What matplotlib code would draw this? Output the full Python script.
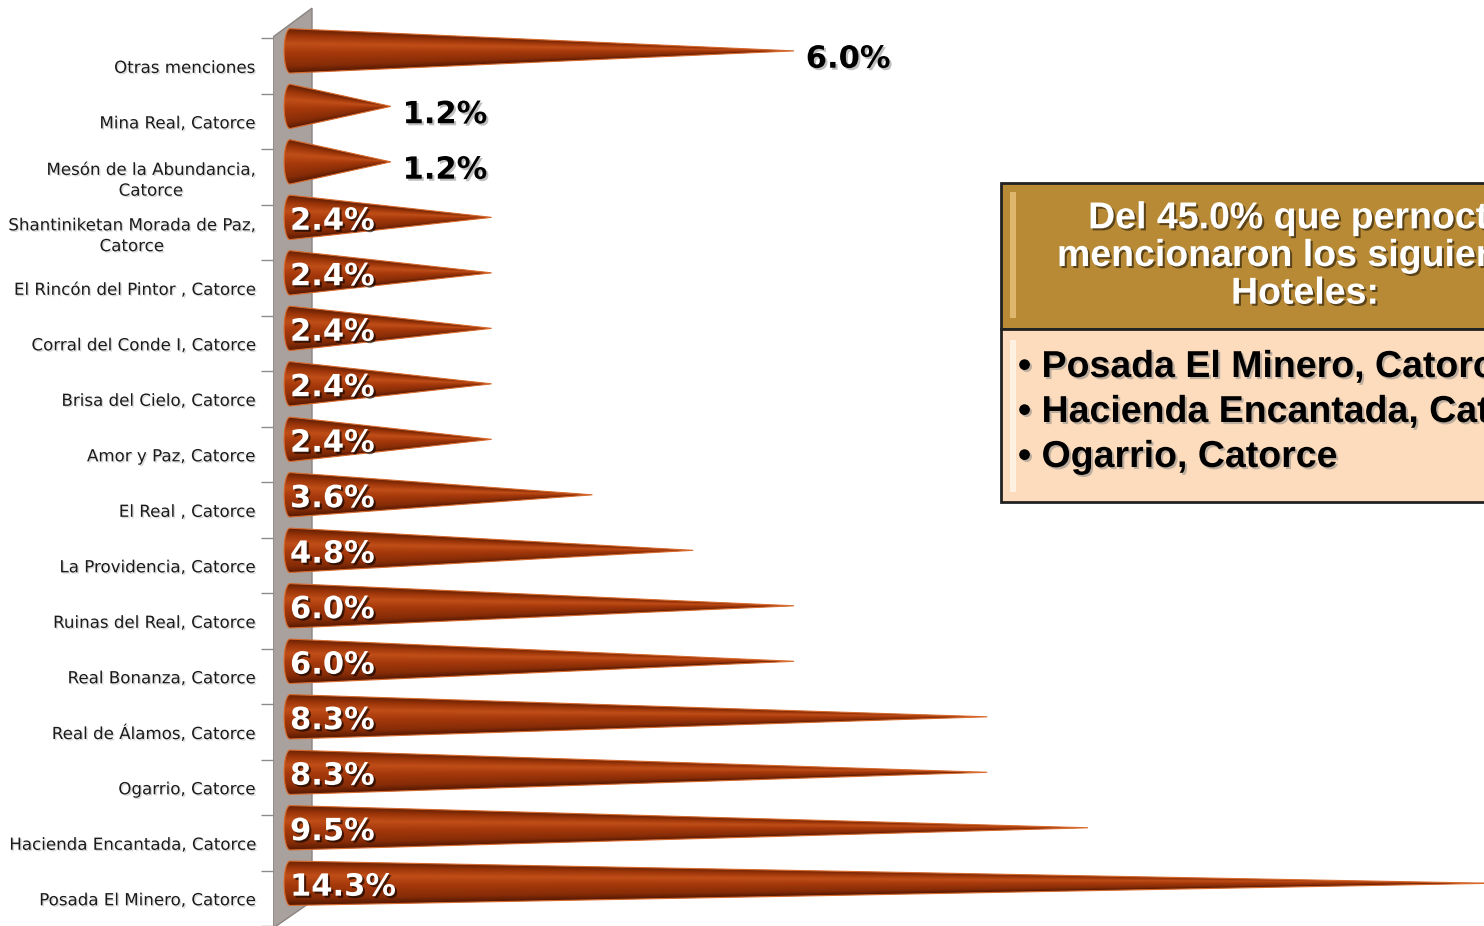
import numpy as np
import matplotlib
matplotlib.use("Agg")
import matplotlib.pyplot as plt
from matplotlib.path import Path
from matplotlib.patches import PathPatch, Polygon, Rectangle
from matplotlib.colors import LinearSegmentedColormap
import matplotlib.patheffects as pe

# Datos (de abajo hacia arriba)
hoteles = [
    "Posada El Minero, Catorce", "Hacienda Encantada, Catorce", "Ogarrio, Catorce",
    "Real de Álamos, Catorce", "Real Bonanza, Catorce", "Ruinas del Real, Catorce",
    "La Providencia, Catorce", "El Real , Catorce", "Amor y Paz, Catorce",
    "Brisa del Cielo, Catorce", "Corral del Conde I, Catorce",
    "El Rincón del Pintor , Catorce", "Shantiniketan Morada de Paz,\nCatorce",
    "Mesón de la Abundancia,\nCatorce", "Mina Real, Catorce", "Otras menciones",
]
porcentajes = [14.3, 9.5, 8.3, 8.3, 6.0, 6.0, 4.8, 3.6, 2.4, 2.4, 2.4, 2.4, 2.4, 1.2, 1.2, 6.0]
etiqueta_fuera = {"Otras menciones", "Mina Real, Catorce", "Mesón de la Abundancia,\nCatorce"}

titulo_caja = "Del 45.0% que pernoctó,\nmencionaron los siguientes\nHoteles:"
lista_caja = ["Posada El Minero, Catorce", "Hacienda Encantada, Catorce", "Ogarrio, Catorce"]

W, H = 1484, 926
fig = plt.figure(figsize=(W / 100, H / 100), dpi=100)
ax = fig.add_axes([273 / W, 0, 1 - 273 / W, 1])
ax.set_xlim(-17 / 84, 1194 / 84)
ax.set_ylim(-26 / 55.6, 900 / 55.6)
for s in ax.spines.values():
    s.set_visible(False)
ax.set_xticks([])

# pared gris 3D
pared = Polygon([(-17 / 84, -0.54), (-17 / 84, 15.52), (22 / 84, 16.04), (22 / 84, -0.054)],
                closed=True, facecolor="#a8a19e", edgecolor="#8a8380", lw=1, zorder=1)
ax.add_patch(pared)

cmap = LinearSegmentedColormap.from_list(
    "cono", [(0, "#581a03"), (0.15, "#862c07"), (0.45, "#a6390b"),
             (0.66, "#c04e18"), (0.84, "#9c3509"), (1, "#642004")])

h = 0.40
rx = 0.07
sombra_blanca = [pe.SimplePatchShadow(offset=(1.5, -1.5), shadow_rgbFace="black", alpha=0.6), pe.Normal()]
sombra_negra = [pe.SimplePatchShadow(offset=(1.5, -1.5), shadow_rgbFace="gray", alpha=0.5), pe.Normal()]

for i, (nombre, v) in enumerate(zip(hoteles, porcentajes)):
    c = i + 0.27
    th = np.linspace(-np.pi / 2, np.pi / 2, 30)
    verts = [(0, c + h), (v, c), (0, c - h)] + list(zip(-rx * np.cos(th), c + h * np.sin(th)))
    path = Path(verts + [verts[0]], [Path.MOVETO] + [Path.LINETO] * (len(verts) - 1) + [Path.CLOSEPOLY])
    borde = PathPatch(path, facecolor="none", edgecolor="#d8692c", lw=0.8, zorder=4)
    ax.add_patch(borde)
    xs = np.linspace(-rx, v, 500)
    ys = np.linspace(c - h, c + h, 80)
    X, Y = np.meshgrid(xs, ys)
    hw = h * np.clip(1 - np.clip(X, 0, None) / v, 0.01, 1)
    t = np.clip((Y - c) / hw, -1, 1)
    im = ax.imshow((t + 1) / 2, cmap=cmap, vmin=0, vmax=1, extent=(-rx, v, c - h, c + h),
                   origin="lower", aspect="auto", interpolation="bilinear", zorder=3)
    im.set_clip_path(borde)

    etiqueta = f"{v:.1f}%"
    if nombre in etiqueta_fuera:
        ax.text(v + 0.14, c - 0.15, etiqueta, fontsize=22, fontweight="bold", color="black",
                ha="left", va="center", zorder=6, path_effects=sombra_negra)
    else:
        ax.text(0.0, c - 0.07, etiqueta, fontsize=22, fontweight="bold", color="white",
                ha="left", va="center", zorder=6, path_effects=sombra_blanca)

ax.set_yticks(range(len(hoteles)))
ax.set_yticklabels(hoteles, fontsize=12, family="DejaVu Sans", color="#1a1a1a")
for lbl in ax.get_yticklabels():
    lbl.set_multialignment("center")
    lbl.set_path_effects([pe.SimplePatchShadow(offset=(1, -1), shadow_rgbFace="gray", alpha=0.3), pe.Normal()])
ax.tick_params(axis="y", which="major", length=0, pad=13)
ax.set_yticks(np.arange(-0.5, len(hoteles)), minor=True)
ax.tick_params(axis="y", which="minor", length=9, width=1, color="#8c8c8c", direction="out")

# caja de texto
x0 = 1001 / W
caja_ancho = 620 / W
cab_y0, cab_y1 = (H - 329) / H, (H - 183) / H
cue_y0 = (H - 502) / H
fig.add_artist(Rectangle((x0, cab_y0), caja_ancho, cab_y1 - cab_y0, transform=fig.transFigure,
                         facecolor="#b98a35", edgecolor="#222222", lw=2))
fig.add_artist(Rectangle((x0, cue_y0), caja_ancho, cab_y0 - cue_y0, transform=fig.transFigure,
                         facecolor="#fcdcbd", edgecolor="#222222", lw=2))
fig.add_artist(Rectangle((1010 / W, (H - 318) / H), 6 / W, 126 / H, transform=fig.transFigure,
                         facecolor="#e8c27a", edgecolor="none", alpha=0.8))
fig.add_artist(Rectangle((1010 / W, (H - 492) / H), 6 / W, 152 / H, transform=fig.transFigure,
                         facecolor="#fff4e6", edgecolor="none", alpha=0.9))

fig.text(1305 / W, (H - 256) / H, titulo_caja, fontsize=27, fontweight="bold", color="white",
         family="Liberation Sans", ha="center", va="center", linespacing=1.06,
         path_effects=[pe.SimplePatchShadow(offset=(1.5, -1.5), shadow_rgbFace="black", alpha=0.5), pe.Normal()])
for k, linea in enumerate(lista_caja):
    fig.text(1018 / W, (H - 367 - 45 * k) / H, "• " + linea, fontsize=27, fontweight="bold",
             color="black", family="Liberation Sans", ha="left", va="center",
             path_effects=[pe.SimplePatchShadow(offset=(1.5, -1.5), shadow_rgbFace="gray", alpha=0.5), pe.Normal()])

fig.savefig("out.png", dpi=100)
